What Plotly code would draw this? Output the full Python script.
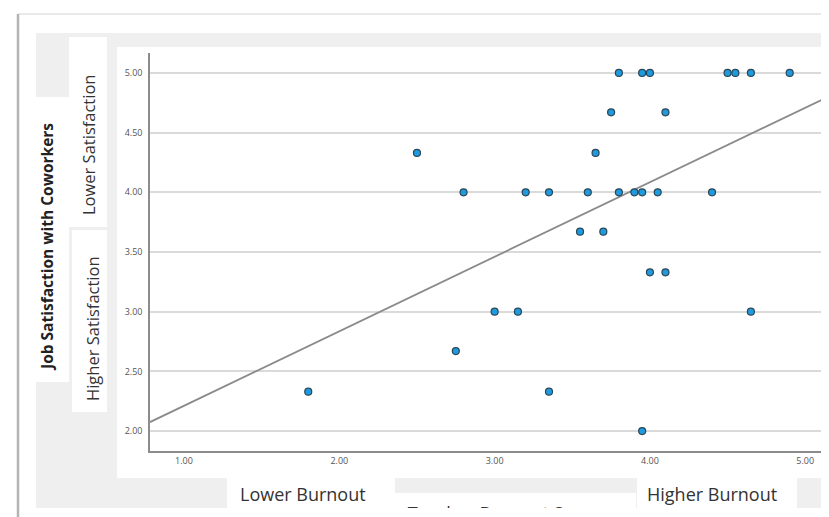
import numpy as np
import plotly.graph_objects as go

# The page body adds an 8px margin, so the figure is offset by 8px.
OFF = 8
W, H = 829 - OFF, 517 - OFF

# ---- data ----
burnout = [3.80, 3.95, 4.00, 4.50, 4.55, 4.65, 4.90,
           3.75, 4.10,
           2.50, 3.65,
           2.80, 3.20, 3.35, 3.60, 3.80, 3.90, 3.95, 4.05, 4.40,
           3.55, 3.70,
           4.00, 4.10,
           3.00, 3.15, 4.65,
           2.75,
           1.80, 3.35,
           3.95]
satisfaction = [5.00, 5.00, 5.00, 5.00, 5.00, 5.00, 5.00,
                4.67, 4.67,
                4.33, 4.33,
                4.00, 4.00, 4.00, 4.00, 4.00, 4.00, 4.00, 4.00, 4.00,
                3.67, 3.67,
                3.33, 3.33,
                3.00, 3.00, 3.00,
                2.67,
                2.33, 2.33,
                2.00]
# fit line coefficients
fit_intercept = 1.588
fit_slope = 0.624
x_ticks = [1.0, 2.0, 3.0, 4.0, 5.0]
y_ticks = [2.0, 2.5, 3.0, 3.5, 4.0, 4.5, 5.0]
x_range = [0.781, 5.153]
y_range = [1.833, 5.167]

fit_x = np.array(x_range)
fit_y = fit_intercept + fit_slope * fit_x

def px(x):
    return (x - OFF) / W

def py(y):
    return 1 - (y - OFF) / H

fig = go.Figure()

fig.add_trace(go.Scatter(x=fit_x, y=fit_y, mode="lines",
                         line=dict(color="#8a8a8a", width=1.8),
                         hoverinfo="skip", showlegend=False, cliponaxis=True))
fig.add_trace(go.Scatter(x=burnout, y=satisfaction, mode="markers",
                         marker=dict(size=7, color="#1e9ade",
                                     line=dict(color="#2b4656", width=1.2)),
                         showlegend=False, cliponaxis=False))

# clipped title text at the bottom (only its top is visible)
fig.add_trace(go.Scatter(x=[0.47], y=[-0.5], mode="text",
                         text=["Teacher Burnout Scores"],
                         textfont=dict(family="Open Sans", size=18, color="#333333"),
                         textposition="middle center",
                         xaxis="x2", yaxis="y2", cliponaxis=True,
                         showlegend=False, hoverinfo="skip"))

shapes = []
def rect(x0, y0, x1, y1, color):
    shapes.append(dict(type="rect", xref="paper", yref="paper",
                       x0=px(x0), x1=px(x1), y0=py(y1), y1=py(y0),
                       fillcolor=color, line=dict(width=0), layer="below"))

GRAY = "#efefef"
rect(36, 33, 829, 508, GRAY)
rect(117, 47, 829, 478, "white")
rect(36, 97, 69, 382, "white")
rect(69, 37, 107, 227, "white")
rect(72, 230, 107, 412, "white")
rect(227, 478, 395, 508, "white")
rect(395, 493, 636, 508, "white")
rect(637, 478, 797, 508, "white")

# outer frame
shapes.append(dict(type="line", xref="paper", yref="paper",
                   x0=px(18), x1=px(829), y0=py(14), y1=py(14),
                   line=dict(color="#e2e2e2", width=1.5), layer="below"))
shapes.append(dict(type="line", xref="paper", yref="paper",
                   x0=px(18), x1=px(18), y0=py(14), y1=py(517),
                   line=dict(color="#b4b4b4", width=2.5), layer="below"))

annotations = [
    dict(text="Lower Satisfaction", x=px(88), y=py(145), textangle=-90,
         font=dict(family="Open Sans", size=16.5, color="#333333")),
    dict(text="Higher Satisfaction", x=px(92), y=py(329), textangle=-90,
         font=dict(family="Open Sans", size=16.5, color="#333333")),
    dict(text="<b>Job Satisfaction with Coworkers</b>", x=px(47), y=py(247), textangle=-90,
         font=dict(family="Open Sans", size=15.5, color="#222222")),
    dict(text="Lower Burnout", x=px(303), y=py(494),
         font=dict(family="Open Sans", size=18, color="#333333")),
    dict(text="Higher Burnout", x=px(712), y=py(494),
         font=dict(family="Open Sans", size=18, color="#333333")),
]
for a in annotations:
    a.update(xref="paper", yref="paper", showarrow=False,
             xanchor="center", yanchor="middle")

fig.update_layout(
    width=W, height=H,
    margin=dict(l=0, r=0, t=0, b=0),
    paper_bgcolor="white", plot_bgcolor="rgba(0,0,0,0)",
    shapes=shapes, annotations=annotations,
    xaxis=dict(domain=[px(150), 1.0], range=x_range, tickvals=x_ticks,
               tickformat=".2f", showgrid=False, zeroline=False,
               showline=True, linecolor="#8c8c8c", linewidth=1.5,
               ticks="", tickfont=dict(family="Open Sans", size=9, color="#555555")),
    yaxis=dict(domain=[py(451), py(53)], range=y_range, tickvals=y_ticks,
               tickformat=".2f", showgrid=True, gridcolor="#dadada", gridwidth=1.5,
               zeroline=False, showline=True, linecolor="#8c8c8c", linewidth=1.5,
               ticks="", ticklabelstandoff=4,
               tickfont=dict(family="Open Sans", size=9, color="#555555")),
    xaxis2=dict(domain=[px(395), px(636)], range=[0, 1], visible=False,
                anchor="y2", fixedrange=True),
    yaxis2=dict(domain=[py(508), py(493)], range=[0, 1], visible=False,
                anchor="x2", fixedrange=True),
    font=dict(family="Open Sans"),
)

fig.write_html("out.html")
